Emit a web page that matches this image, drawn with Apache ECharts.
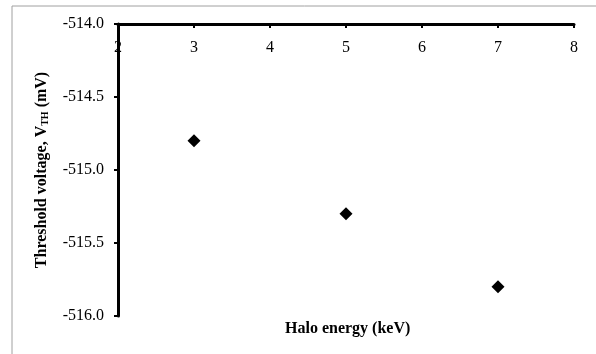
<!DOCTYPE html>
<html>
<head>
<meta charset="utf-8">
<script src="https://cdn.jsdelivr.net/npm/echarts@6/dist/echarts.min.js"></script>
<style>
  html, body { margin: 0; padding: 0; background: #fff; }
  #chart { width: 596px; height: 354px; }
</style>
</head>
<body>
<div id="chart"></div>
<script>
// 数据
const haloEnergy = [3, 5, 7]
const thresholdVoltage = [-514.8, -515.3, -515.8]

const points = haloEnergy.map((x, i) => [x, thresholdVoltage[i]])
const serif = '"Liberation Serif", "Times New Roman", serif'

let myChart = echarts.init(document.getElementById('chart'))
myChart.setOption({
    animation: false,
    graphic: [
        {
            // 外框
            type: 'rect',
            shape: { x: 12, y: 6, width: 700, height: 500 },
            style: { fill: 'none', stroke: '#a0a0a0', lineWidth: 1 },
            silent: true
        },
        {
            type: 'text',
            left: 285,
            top: 321,
            style: {
                text: 'Halo energy (keV)',
                font: 'bold 16px ' + serif,
                fill: '#000'
            }
        }
    ],
    grid: { left: 118, top: 24, right: 22, bottom: 38 },
    xAxis: {
        type: 'value',
        position: 'top',
        min: 2,
        max: 8,
        interval: 1,
        axisLine: { lineStyle: { color: '#000', width: 3 } },
        axisTick: { inside: true, length: 4, lineStyle: { color: '#000', width: 2 } },
        axisLabel: { inside: true, margin: 16, color: '#000', fontFamily: serif, fontSize: 16 },
        splitLine: { show: false }
    },
    yAxis: {
        type: 'value',
        min: -516,
        max: -514,
        interval: 0.5,
        name: '{b|Threshold voltage, V}{s|TH}{b| (mV)}',
        nameLocation: 'middle',
        nameGap: 68,
        nameRotate: 90,
        nameTextStyle: {
            rich: {
                b: { fontFamily: serif, fontWeight: 'bold', fontSize: 16, color: '#000' },
                s: { fontFamily: serif, fontWeight: 'bold', fontSize: 10, color: '#000', verticalAlign: 'bottom', padding: [7, 0, 0, 0] }
            }
        },
        axisLine: { lineStyle: { color: '#000', width: 3 } },
        axisTick: { length: 4, lineStyle: { color: '#000', width: 2 } },
        axisLabel: {
            margin: 14,
            color: '#000',
            fontFamily: serif,
            fontSize: 16,
            formatter: v => v.toFixed(1)
        },
        splitLine: { show: false }
    },
    series: [{
        type: 'scatter',
        data: points,
        symbol: 'diamond',
        symbolSize: [13, 13],
        itemStyle: { color: '#000', opacity: 1 }
    }]
})
</script>
</body>
</html>
